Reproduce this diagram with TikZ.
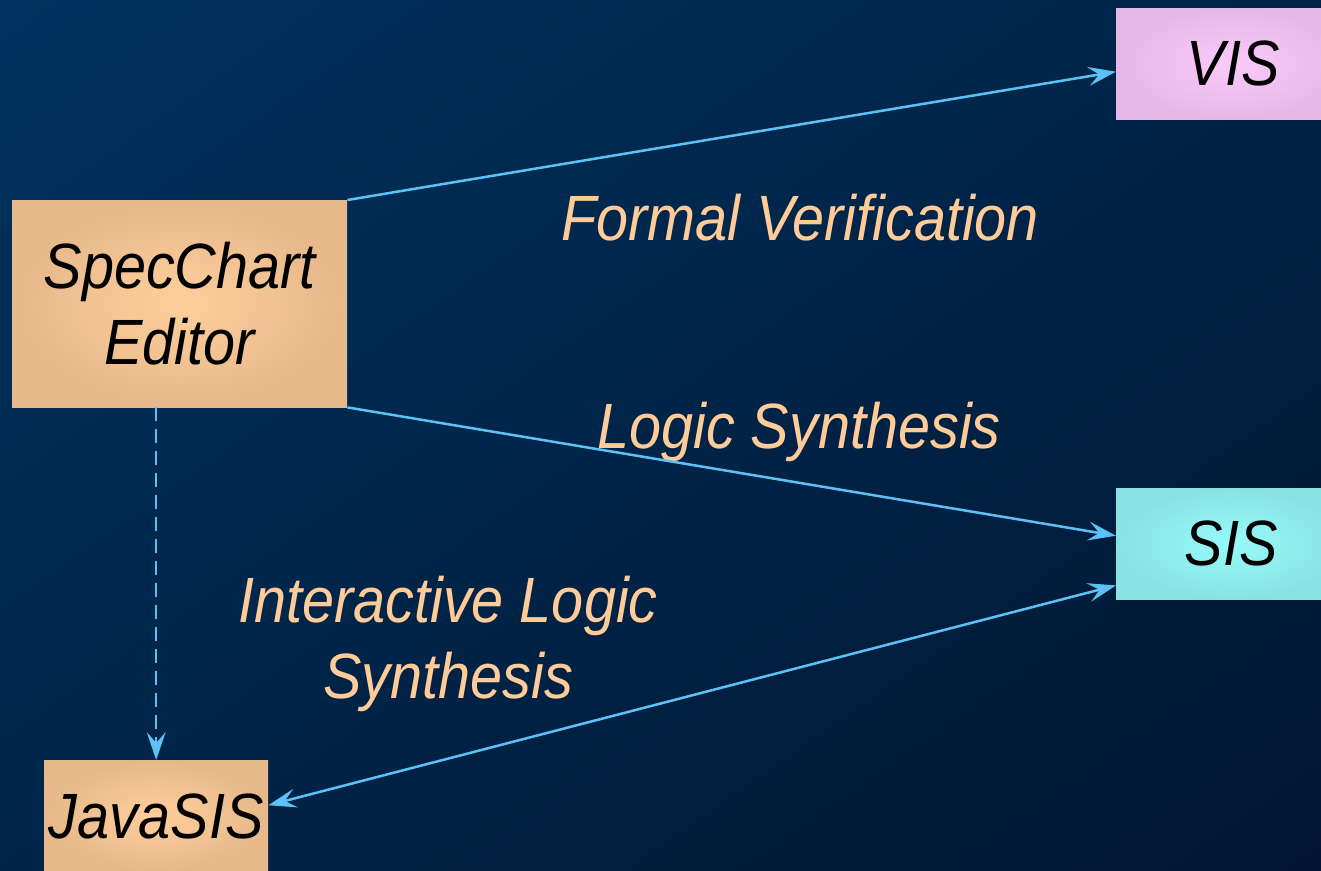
\documentclass[tikz,border=0pt]{standalone}
\usepackage{fontspec}
\setmainfont{Liberation Sans}[FakeStretch=0.9]
\usetikzlibrary{arrows.meta,calc}
\definecolor{bgA}{HTML}{00325F}
\definecolor{bgB}{HTML}{001630}
\definecolor{peach}{HTML}{FFCC99}
\definecolor{tanout}{HTML}{E6B88A}
\definecolor{tanin}{HTML}{FFCE9C}
\definecolor{visout}{HTML}{E6B6E6}
\definecolor{visin}{HTML}{FACAFA}
\definecolor{sisout}{HTML}{88E2E2}
\definecolor{sisin}{HTML}{98FAFA}
\definecolor{arr}{HTML}{5CC2F5}
\tikzset{
  box/.style={rectangle, inner sep=0pt, anchor=north west, text=black,
    font=\itshape\fontsize{64}{76}\selectfont, align=center},
  tanbox/.style={box, inner color=tanin, outer color=tanout},
  visbox/.style={box, inner color=visin, outer color=visout},
  sisbox/.style={box, inner color=sisin, outer color=sisout},
  lbl/.style={text=peach, font=\itshape\fontsize{64}{76}\selectfont, anchor=base, inner sep=0pt},
  tip/.tip={Stealth[length=28pt 0,width=19pt 0,inset=11pt 0]},
  conn/.style={draw=arr, line width=2.5pt, -tip},
  dconn/.style={conn, dash pattern=on 14pt off 8pt},
}
\begin{document}
\begin{tikzpicture}[x=1pt,y=-1pt]
\useasboundingbox (0,0) rectangle (1321,870);
\clip (0,0) rectangle (1321,870);
\shade[shading=axis, top color=bgA, bottom color=bgB, shading angle=35] (-200,-200) rectangle (1521,1070);
\node[tanbox, minimum width=335pt, minimum height=207pt] (spec) at (12,200) {SpecChart\\Editor};
\node[visbox, minimum width=234pt, minimum height=111pt] (vis) at (1116,8) {VIS};
\node[sisbox, minimum width=230pt, minimum height=111pt] (sis) at (1116,488) {SIS};
\node[tanbox, minimum width=224pt, minimum height=112pt] (java) at (44,760) {JavaSIS};
\node[lbl] (fv) at (800,240) {Formal Verification};
\node[lbl] (ls) at (799,448) {Logic Synthesis};
\node[lbl] (il1) at (448,622) {Interactive Logic};
\node[lbl] (il2) at (448,698) {Synthesis};
\draw[conn] (spec.north east) -- ([yshift=-8pt]vis.west);
\draw[conn] (spec.south east) -- ([yshift=8pt]sis.west);
\draw[conn, tip-tip] ([yshift=14pt]sis.south west) -- ([yshift=11pt]java.east);
\draw[dconn] (spec.south -| java.north) -- (java.north);
\end{tikzpicture}
\end{document}
